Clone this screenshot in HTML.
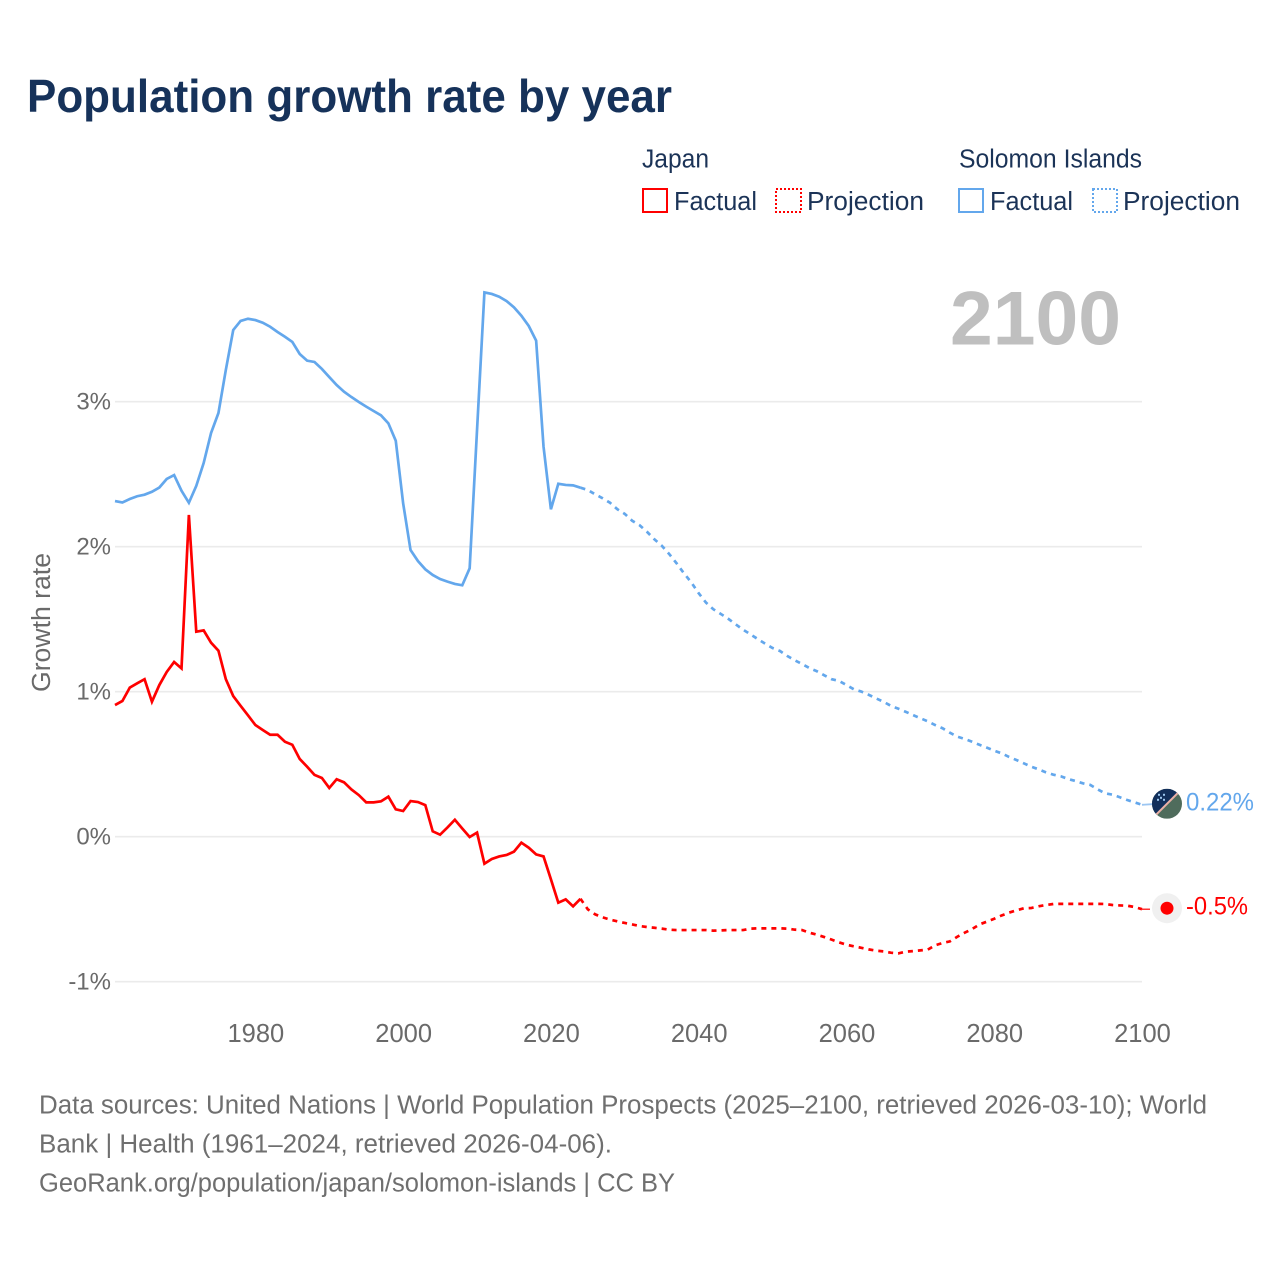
<!DOCTYPE html>
<html lang="en">
<head>
<meta charset="utf-8">
<title>Population growth rate by year</title>
<style>
  html, body { margin: 0; padding: 0; background: #ffffff; }
  svg { display: block; font-family: "Liberation Sans", sans-serif; }
</style>
</head>
<body>
<svg id="chart" xmlns="http://www.w3.org/2000/svg" width="1280" height="1280" viewBox="0 0 1280 1280">
  <rect x="0" y="0" width="1280" height="1280" fill="#ffffff"/>
  <text x="27" y="112" font-size="46.5" font-weight="700" fill="#16325a" textLength="645" lengthAdjust="spacingAndGlyphs">Population growth rate by year</text>

  <text x="642" y="167.5" font-size="25.5" fill="#1b3357" textLength="67" lengthAdjust="spacingAndGlyphs">Japan</text>
  <rect x="643" y="189" width="24" height="23" fill="none" stroke="#ff0000" stroke-width="2"/>
  <text x="674" y="210" font-size="25.5" fill="#1b3357" textLength="83" lengthAdjust="spacingAndGlyphs">Factual</text>
  <rect x="776" y="189" width="25" height="23" fill="none" stroke="#ff0000" stroke-width="2" stroke-dasharray="2,2"/>
  <text x="807" y="210" font-size="25.5" fill="#1b3357" textLength="117" lengthAdjust="spacingAndGlyphs">Projection</text>

  <text x="959" y="167.5" font-size="25.5" fill="#1b3357" textLength="183" lengthAdjust="spacingAndGlyphs">Solomon Islands</text>
  <rect x="959" y="189" width="24" height="23" fill="none" stroke="#63a7ec" stroke-width="2"/>
  <text x="990" y="210" font-size="25.5" fill="#1b3357" textLength="83" lengthAdjust="spacingAndGlyphs">Factual</text>
  <rect x="1093" y="189" width="24" height="23" fill="none" stroke="#63a7ec" stroke-width="2" stroke-dasharray="2,2"/>
  <text x="1123" y="210" font-size="25.5" fill="#1b3357" textLength="117" lengthAdjust="spacingAndGlyphs">Projection</text>

  <text x="950" y="344.5" font-size="76" font-weight="700" fill="#bfbfbf" textLength="171" lengthAdjust="spacingAndGlyphs">2100</text>

  <text transform="translate(50,692) rotate(-90)" x="0" y="0" font-size="25.5" fill="#6a6a6a" textLength="139" lengthAdjust="spacingAndGlyphs">Growth rate</text>

  <g id="grid"></g>
  <g id="y-ticks"></g>
  <g id="x-ticks"></g>
  <g id="series"></g>

  <defs>
    <clipPath id="flag-clip"><circle cx="0" cy="0" r="15"/></clipPath>
  </defs>
  <g id="flag-marker">
    <g clip-path="url(#flag-clip)">
      <rect x="-15" y="-15" width="30" height="30" fill="#4f6c5c"/>
      <polygon points="-15,-15 15,-15 15,-15 -15,15" fill="#122f5b"/>
      <line x1="-15" y1="15" x2="15" y2="-15" stroke="#eab0a6" stroke-width="2"/>
      <g fill="#9cc6ee">
        <rect x="-9" y="-10" width="2" height="2"/>
        <rect x="-4" y="-10" width="2" height="2"/>
        <rect x="-7" y="-7" width="2" height="2"/>
        <rect x="-10" y="-5" width="2" height="2"/>
        <rect x="-4" y="-5" width="2" height="2"/>
      </g>
    </g>
  </g>
  <g id="japan-marker">
    <circle cx="0" cy="0" r="15" fill="#f0f0f0"/>
    <circle cx="0" cy="0" r="6.5" fill="#ff0000"/>
  </g>
  <text id="solomon-end-label" x="1186" font-size="25" fill="#63a7ec" textLength="68" lengthAdjust="spacingAndGlyphs"></text>
  <text id="japan-end-label" x="1186" font-size="25" fill="#ff0000" textLength="62" lengthAdjust="spacingAndGlyphs"></text>

  <text x="39" y="1113.5" font-size="25.5" fill="#6f6f6f" textLength="1168" lengthAdjust="spacingAndGlyphs">Data sources: United Nations | World Population Prospects (2025–2100, retrieved 2026-03-10); World</text>
  <text x="39" y="1152.5" font-size="25.5" fill="#6f6f6f" textLength="573" lengthAdjust="spacingAndGlyphs">Bank | Health (1961–2024, retrieved 2026-04-06).</text>
  <text x="39" y="1191.5" font-size="25.5" fill="#6f6f6f" textLength="636" lengthAdjust="spacingAndGlyphs">GeoRank.org/population/japan/solomon-islands | CC BY</text>
</svg>
<script>
const factualStartYear = 1961;
const projectionStartYear = 2024;
const xTickYears = [1980, 2000, 2020, 2040, 2060, 2080, 2100];
const yTickValues = [3, 2, 1, 0, -1];
const yTickLabels = ['3%', '2%', '1%', '0%', '-1%'];
const solomonEndLabel = '0.22%';
const japanEndLabel = '-0.5%';

const solomonFactual = [
  2.315, 2.305, 2.329, 2.348, 2.359, 2.379, 2.408, 2.467, 2.494, 2.386,
  2.303, 2.419, 2.577, 2.784, 2.922, 3.219, 3.494, 3.557, 3.572, 3.563,
  3.545, 3.517, 3.481, 3.448, 3.412, 3.329, 3.283, 3.274, 3.226, 3.170,
  3.115, 3.069, 3.032, 2.998, 2.966, 2.936, 2.906, 2.851, 2.731, 2.299,
  1.977, 1.901, 1.844, 1.805, 1.777, 1.759, 1.743, 1.734, 1.851, 2.805,
  3.754, 3.743, 3.724, 3.694, 3.651, 3.593, 3.522, 3.421, 2.690, 2.258,
  2.434, 2.426, 2.423, 2.407
];
const solomonProjection = [
  2.407, 2.391, 2.361, 2.334, 2.303, 2.258, 2.226, 2.179, 2.148, 2.103,
  2.051, 2.007, 1.950, 1.886, 1.817, 1.754, 1.679, 1.614, 1.568, 1.536,
  1.503, 1.465, 1.428, 1.396, 1.363, 1.331, 1.301, 1.281, 1.246, 1.217,
  1.191, 1.163, 1.141, 1.113, 1.086, 1.074, 1.046, 1.017, 1.001, 0.979,
  0.954, 0.931, 0.903, 0.883, 0.862, 0.839, 0.817, 0.796, 0.770, 0.748,
  0.717, 0.690, 0.674, 0.655, 0.634, 0.614, 0.593, 0.575, 0.550, 0.529,
  0.506, 0.483, 0.465, 0.444, 0.428, 0.417, 0.398, 0.384, 0.368, 0.357,
  0.327, 0.299, 0.290, 0.272, 0.253, 0.237, 0.22
];
const japanFactual = [
  0.908, 0.936, 1.028, 1.058, 1.086, 0.931, 1.046, 1.136, 1.205, 1.161,
  2.219, 1.414, 1.423, 1.338, 1.283, 1.086, 0.970, 0.903, 0.837, 0.770,
  0.736, 0.703, 0.703, 0.655, 0.634, 0.536, 0.483, 0.426, 0.405, 0.336,
  0.396, 0.375, 0.326, 0.287, 0.237, 0.237, 0.244, 0.276, 0.189, 0.177,
  0.246, 0.239, 0.218, 0.037, 0.014, 0.064, 0.117, 0.057, -0.002, 0.028,
  -0.186, -0.154, -0.136, -0.126, -0.103, -0.041, -0.076, -0.122, -0.136, -0.294,
  -0.455, -0.432, -0.480, -0.428
];
const japanProjection = [
  -0.428, -0.501, -0.536, -0.556, -0.572, -0.584, -0.595, -0.605, -0.616, -0.623,
  -0.628, -0.634, -0.641, -0.644, -0.644, -0.644, -0.644, -0.644, -0.648, -0.646,
  -0.644, -0.644, -0.644, -0.634, -0.632, -0.632, -0.632, -0.632, -0.634, -0.641,
  -0.644, -0.662, -0.676, -0.692, -0.710, -0.729, -0.745, -0.756, -0.766, -0.777,
  -0.786, -0.791, -0.800, -0.805, -0.793, -0.789, -0.784, -0.779, -0.749, -0.733,
  -0.722, -0.690, -0.662, -0.637, -0.605, -0.586, -0.566, -0.543, -0.524, -0.508,
  -0.494, -0.492, -0.480, -0.471, -0.464, -0.463, -0.463, -0.463, -0.463, -0.463,
  -0.463, -0.464, -0.471, -0.474, -0.476, -0.485, -0.5
];

const SVG_NS = 'http://www.w3.org/2000/svg';
const xLeft = 115;
const xRight = 1142;
const yearMin = 1961;
const yearMax = 2100;
const yZero = 836.7;
const pxPerPercent = 145;

function xScale(year) {
  return xLeft + (year - yearMin) * (xRight - xLeft) / (yearMax - yearMin);
}
function yScale(value) {
  return yZero - value * pxPerPercent;
}
function pathFor(values, startYear) {
  return values.map(function (v, i) {
    return (i === 0 ? 'M' : 'L') + xScale(startYear + i).toFixed(2) + ',' + yScale(v).toFixed(2);
  }).join(' ');
}
function make(tag, parent) {
  const node = document.createElementNS(SVG_NS, tag);
  parent.appendChild(node);
  return node;
}

const gridGroup = document.getElementById('grid');
const yTickGroup = document.getElementById('y-ticks');
const xTickGroup = document.getElementById('x-ticks');
const seriesGroup = document.getElementById('series');

yTickValues.forEach(function (value, i) {
  const line = make('line', gridGroup);
  
  
  line.setAttribute('x1', xLeft);
  line.setAttribute('x2', xRight);
  line.setAttribute('y1', yScale(value));
  line.setAttribute('y2', yScale(value));
  line.setAttribute('stroke', '#ebebeb');
  line.setAttribute('stroke-width', '1.6');

  const label = make('text', yTickGroup);
  
  
  label.setAttribute('x', 111);
  label.setAttribute('y', yScale(value) + 8);
  label.setAttribute('text-anchor', 'end');
  label.setAttribute('font-size', '24');
  label.setAttribute('fill', '#6a6a6a');
  label.textContent = yTickLabels[i];
});

xTickYears.forEach(function (year) {
  const label = make('text', xTickGroup);
  
  
  label.setAttribute('x', xScale(year) + 0.5);
  label.setAttribute('y', 1042);
  label.setAttribute('text-anchor', 'middle');
  label.setAttribute('font-size', '25.5');
  label.setAttribute('fill', '#6a6a6a');
  label.textContent = String(year);
});

const solomonFactualLine = make('path', seriesGroup);


solomonFactualLine.setAttribute('d', pathFor(solomonFactual, factualStartYear));
solomonFactualLine.setAttribute('fill', 'none');
solomonFactualLine.setAttribute('stroke', '#63a7ec');
solomonFactualLine.setAttribute('stroke-width', '2.7');

const solomonProjectionLine = make('path', seriesGroup);


solomonProjectionLine.setAttribute('d', pathFor(solomonProjection, projectionStartYear));
solomonProjectionLine.setAttribute('fill', 'none');
solomonProjectionLine.setAttribute('stroke', '#63a7ec');
solomonProjectionLine.setAttribute('stroke-width', '2.7');
solomonProjectionLine.setAttribute('stroke-dasharray', '5,5');

const japanFactualLine = make('path', seriesGroup);


japanFactualLine.setAttribute('d', pathFor(japanFactual, factualStartYear));
japanFactualLine.setAttribute('fill', 'none');
japanFactualLine.setAttribute('stroke', '#ff0000');
japanFactualLine.setAttribute('stroke-width', '2.7');

const japanProjectionLine = make('path', seriesGroup);


japanProjectionLine.setAttribute('d', pathFor(japanProjection, projectionStartYear));
japanProjectionLine.setAttribute('fill', 'none');
japanProjectionLine.setAttribute('stroke', '#ff0000');
japanProjectionLine.setAttribute('stroke-width', '2.7');
japanProjectionLine.setAttribute('stroke-dasharray', '5,5');

const solomonEnd = solomonProjection[solomonProjection.length - 1];
const japanEnd = japanProjection[japanProjection.length - 1];
const markerX = xScale(yearMax) + 25;

const solomonConnector = make('line', seriesGroup);


solomonConnector.setAttribute('x1', xScale(yearMax));
solomonConnector.setAttribute('x2', markerX - 15);
solomonConnector.setAttribute('y1', yScale(solomonEnd));
solomonConnector.setAttribute('y2', yScale(solomonEnd) - 0.6);
solomonConnector.setAttribute('stroke', '#9cc6f2');
solomonConnector.setAttribute('stroke-width', '1.8');

const japanConnector = make('line', seriesGroup);


japanConnector.setAttribute('x1', xScale(yearMax));
japanConnector.setAttribute('x2', markerX - 17);
japanConnector.setAttribute('y1', yScale(japanEnd));
japanConnector.setAttribute('y2', yScale(japanEnd));
japanConnector.setAttribute('stroke', '#ff0000');
japanConnector.setAttribute('stroke-width', '1.2');

document.getElementById('flag-marker').setAttribute('transform', 'translate(' + markerX + ',' + (yScale(solomonEnd) - 1) + ')');
document.getElementById('japan-marker').setAttribute('transform', 'translate(' + markerX + ',' + (yScale(japanEnd) - 1) + ')');

const solomonLabelNode = document.getElementById('solomon-end-label');
solomonLabelNode.setAttribute('y', yScale(solomonEnd) + 5.5);
solomonLabelNode.textContent = solomonEndLabel;

const japanLabelNode = document.getElementById('japan-end-label');
japanLabelNode.setAttribute('y', yScale(japanEnd) + 5.5);
japanLabelNode.textContent = japanEndLabel;
</script>
</body>
</html>
